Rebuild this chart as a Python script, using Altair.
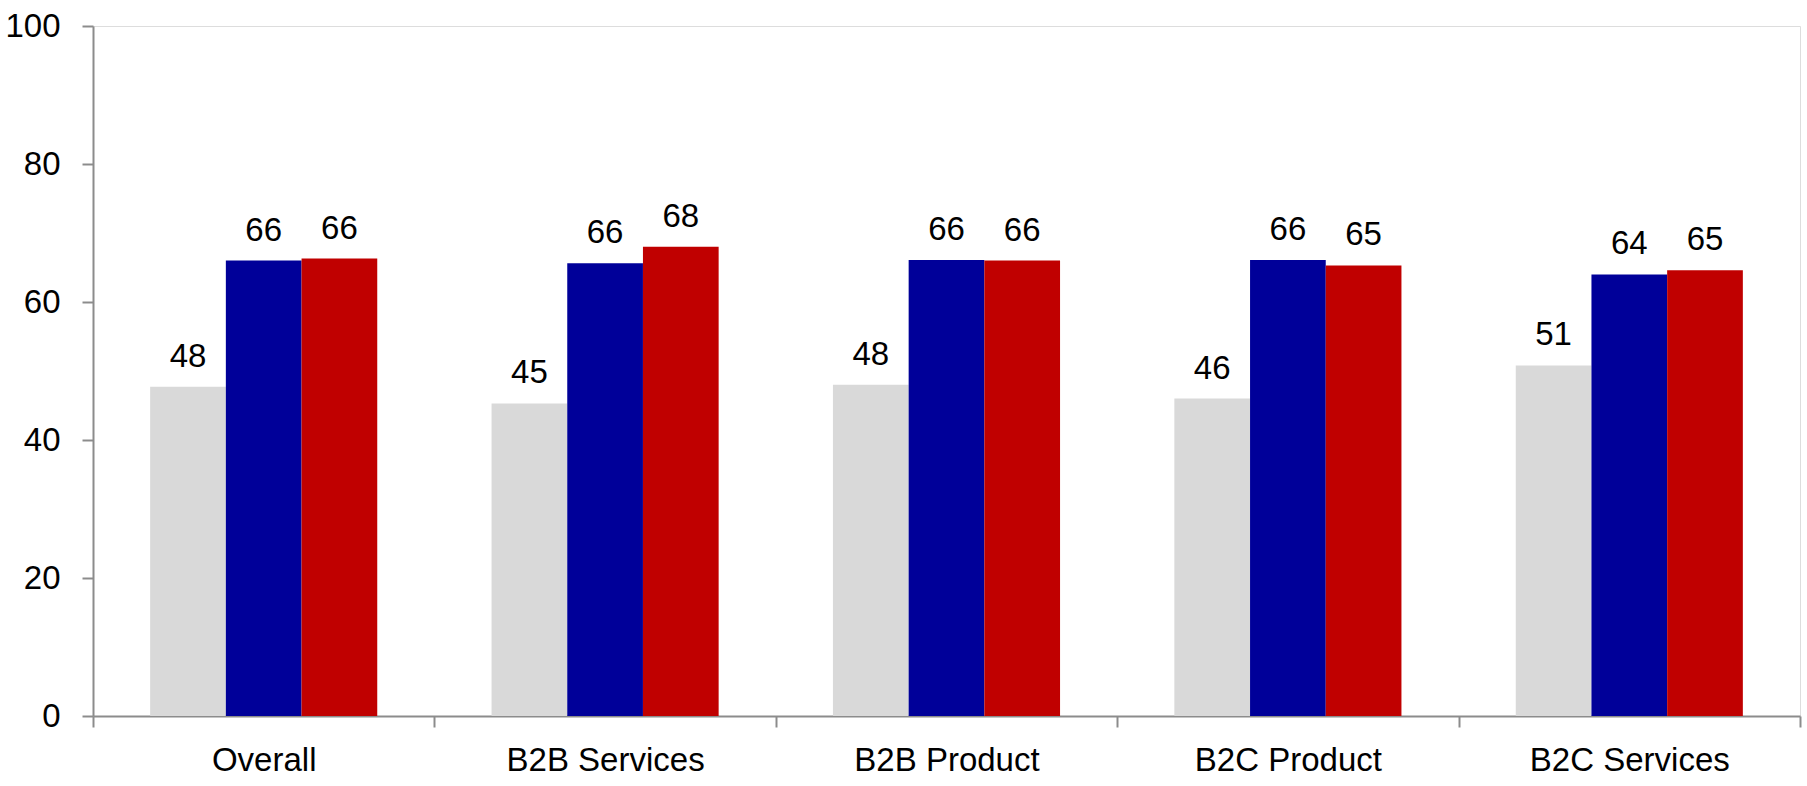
import altair as alt
import pandas as pd

# Category groups along the x axis and the three series drawn in each group
categories = ["Overall", "B2B Services", "B2B Product", "B2C Product", "B2C Services"]
series = ["Series 1", "Series 2", "Series 3"]
colors = ["#D9D9D9", "#000099", "#C00000"]

series1_values = [47.7, 45.3, 48.0, 46.0, 50.8]
series2_values = [66.0, 65.6, 66.1, 66.1, 64.0]
series3_values = [66.3, 68.0, 66.0, 65.3, 64.6]

y_ticks = [0, 20, 40, 60, 80, 100]

rows = []
for s, vals in zip(series, [series1_values, series2_values, series3_values]):
    for c, v in zip(categories, vals):
        rows.append({"category": c, "series": s, "value": v})
df = pd.DataFrame(rows)

FONT = "Liberation Sans Narrow, Arial Narrow, Liberation Sans, Arial, sans-serif"
FS = 33

x_enc = alt.X(
    "category:N",
    sort=categories,
    title=None,
    scale=alt.Scale(paddingInner=0, paddingOuter=0),
    axis=alt.Axis(
        tickBand="extent",
        labelAngle=0,
        labelLimit=0,
        labelFont=FONT,
        labelFontSize=FS,
        labelColor="#000000",
        labelPadding=17,
        domainColor="#8C8C8C",
        domainWidth=2,
        tickColor="#8C8C8C",
        tickWidth=2,
        tickSize=11,
    ),
)
x_off = alt.XOffset(
    "series:N",
    sort=series,
    scale=alt.Scale(paddingInner=0, paddingOuter=0.755),
)
y_enc = alt.Y(
    "value:Q",
    title=None,
    scale=alt.Scale(domain=[0, 100], nice=False, zero=True),
    axis=alt.Axis(
        values=y_ticks,
        grid=False,
        labelLimit=0,
        labelFont=FONT,
        labelFontSize=FS,
        labelColor="#000000",
        labelPadding=22,
        domainColor="#8C8C8C",
        domainWidth=2,
        tickColor="#8C8C8C",
        tickWidth=2,
        tickSize=11,
    ),
)

bars = alt.Chart(df).mark_bar(width={"band": 1}).encode(
    x=x_enc,
    xOffset=x_off,
    y=y_enc,
    color=alt.Color(
        "series:N",
        sort=series,
        scale=alt.Scale(domain=series, range=colors),
        legend=None,
    ),
)

labels = alt.Chart(df).mark_text(
    baseline="alphabetic",
    dy=-20,
    font=FONT,
    fontSize=FS,
    color="#000000",
).encode(
    x=x_enc,
    xOffset=x_off,
    y=y_enc,
    text=alt.Text("value:Q", format=".0f"),
)

chart = (
    alt.layer(bars, labels)
    .properties(
        width=1707,
        height=690,
        autosize=alt.AutoSizeParams(type="none"),
        padding={"left": 93, "top": 26, "right": 7, "bottom": 70},
    )
    .configure_view(stroke=None)
    .configure(background="#FFFFFF")
)

chart.save("out.html", embed_options={"renderer": "svg", "actions": False})
